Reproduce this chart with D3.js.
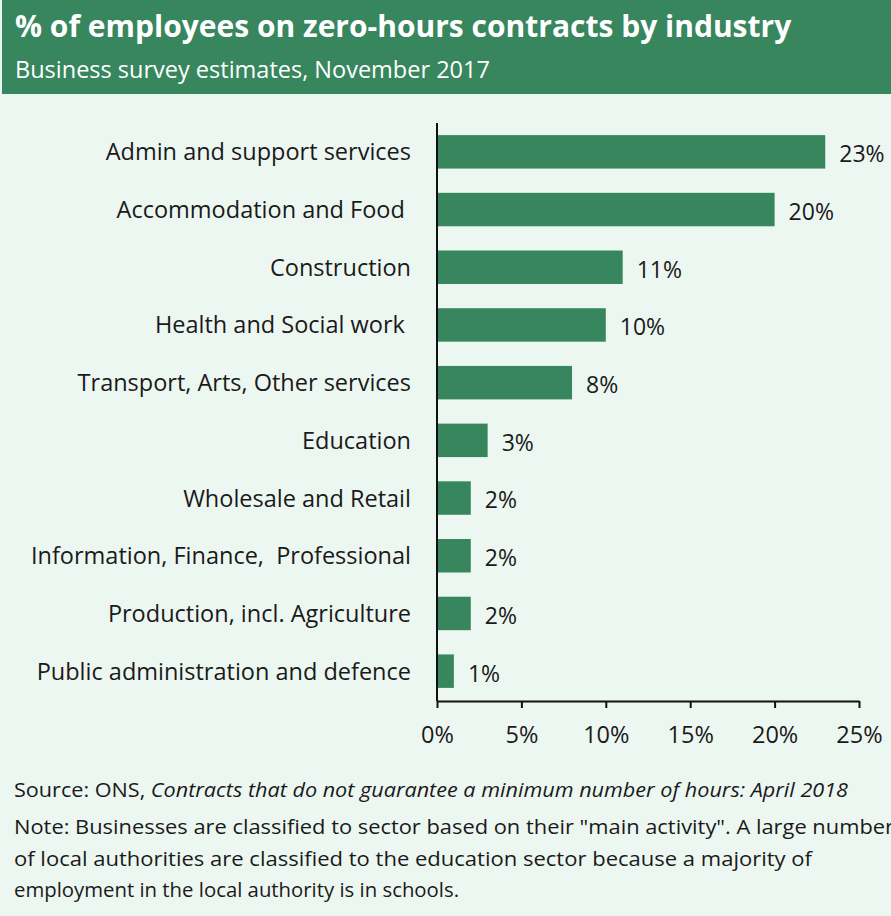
<!DOCTYPE html>
<html>
<head>
<meta charset="utf-8">
<script src="https://cdn.jsdelivr.net/npm/d3@7"></script>
<style>
  html, body { margin: 0; padding: 0; background: #edf7f1; }
  svg { display: block; font-family: "Open Sans", "Noto Sans", sans-serif; }
</style>
</head>
<body>
<svg id="chart" width="891" height="916"></svg>
<script>
// Share of employees on zero-hours contracts, by industry
const industries = [
  "Admin and support services",
  "Accommodation and Food ",
  "Construction",
  "Health and Social work ",
  "Transport, Arts, Other services",
  "Education",
  "Wholesale and Retail",
  "Information, Finance,  Professional",
  "Production, incl. Agriculture",
  "Public administration and defence"
];
const shares = [23, 20, 11, 10, 8, 3, 2, 2, 2, 1];
const xTicks = [0, 5, 10, 15, 20, 25];

const titleText = "% of employees on zero-hours contracts by industry";
const subtitleText = "Business survey estimates, November 2017";
const footerLines = [
  [{ t: "Source: ONS, ", i: false }, { t: "Contracts that do not guarantee a minimum number of hours: April 2018", i: true }],
  [{ t: "Note: Businesses are classified to sector based on their \"main activity\". A large number", i: false }],
  [{ t: "of local authorities are classified to the education sector because a majority of", i: false }],
  [{ t: "employment in the local authority is in schools.", i: false }]
];

const green = "#37865e";
const ink = "#1a1a1a";
const svg = d3.select("#chart");

// header band
svg.append("rect").attr("x", 2).attr("y", 0).attr("width", 889).attr("height", 94).attr("fill", green);
svg.append("text").attr("x", 15).attr("y", 37)
  .attr("fill", "#fff").attr("font-size", 30).attr("font-weight", 700)
  .text(titleText);
svg.append("text").attr("x", 15).attr("y", 78)
  .attr("fill", "#fff").attr("font-size", 23.5)
  .text(subtitleText);

// plot area
const x = d3.scaleLinear().domain([0, 25]).range([437, 859]);
const y = d3.scaleBand().domain(industries).range([123, 700]).paddingInner(0.42).paddingOuter(0.21);

svg.append("g").selectAll("rect").data(industries).join("rect")
  .attr("x", x(0))
  .attr("y", d => y(d))
  .attr("width", (d, i) => x(shares[i]) - x(0))
  .attr("height", y.bandwidth())
  .attr("fill", green);

// value labels
svg.append("g").selectAll("text").data(industries).join("text")
  .attr("x", (d, i) => x(shares[i]) + 14)
  .attr("y", d => y(d) + y.bandwidth() / 2)
  .attr("dy", "0.45em")
  .attr("font-size", 23)
  .attr("fill", ink)
  .text((d, i) => shares[i] + "%");

// category labels
svg.append("g").selectAll("text").data(industries).join("text")
  .attr("x", 411)
  .attr("y", d => y(d) + y.bandwidth() / 2)
  .attr("dy", "0.36em")
  .attr("text-anchor", "end")
  .attr("font-size", 23.5)
  .attr("fill", ink)
  .style("white-space", "pre")
  .text(d => d);

// vertical axis line
svg.append("line").attr("x1", x(0)).attr("x2", x(0)).attr("y1", 123).attr("y2", 701)
  .attr("stroke", "#111").attr("stroke-width", 2);

// x axis
const xAxis = d3.axisBottom(x).tickValues(xTicks).tickFormat(d => d + "%").tickSize(7).tickSizeOuter(0);
const gx = svg.append("g").attr("transform", "translate(0,701)").call(xAxis);
gx.select(".domain").attr("stroke", "#111").attr("stroke-width", 2);
gx.selectAll(".tick line").attr("stroke", "#111").attr("stroke-width", 2);
gx.selectAll(".tick text").attr("font-size", 23.5).attr("fill", ink)
  .attr("font-family", "'Open Sans', sans-serif").attr("dy", 0).attr("y", 42);

// footer notes
const footY = [797, 834, 866, 897];
const footW = [834, 880, 798, 445];
footerLines.forEach((parts, li) => {
  const t = svg.append("text").attr("x", 14).attr("y", footY[li])
    .attr("font-size", 20).attr("fill", ink)
    .style("white-space", "pre")
    .attr("textLength", footW[li]).attr("lengthAdjust", "spacingAndGlyphs");
  parts.forEach(p => t.append("tspan").attr("font-style", p.i ? "italic" : "normal").text(p.t));
});
</script>
</body>
</html>
